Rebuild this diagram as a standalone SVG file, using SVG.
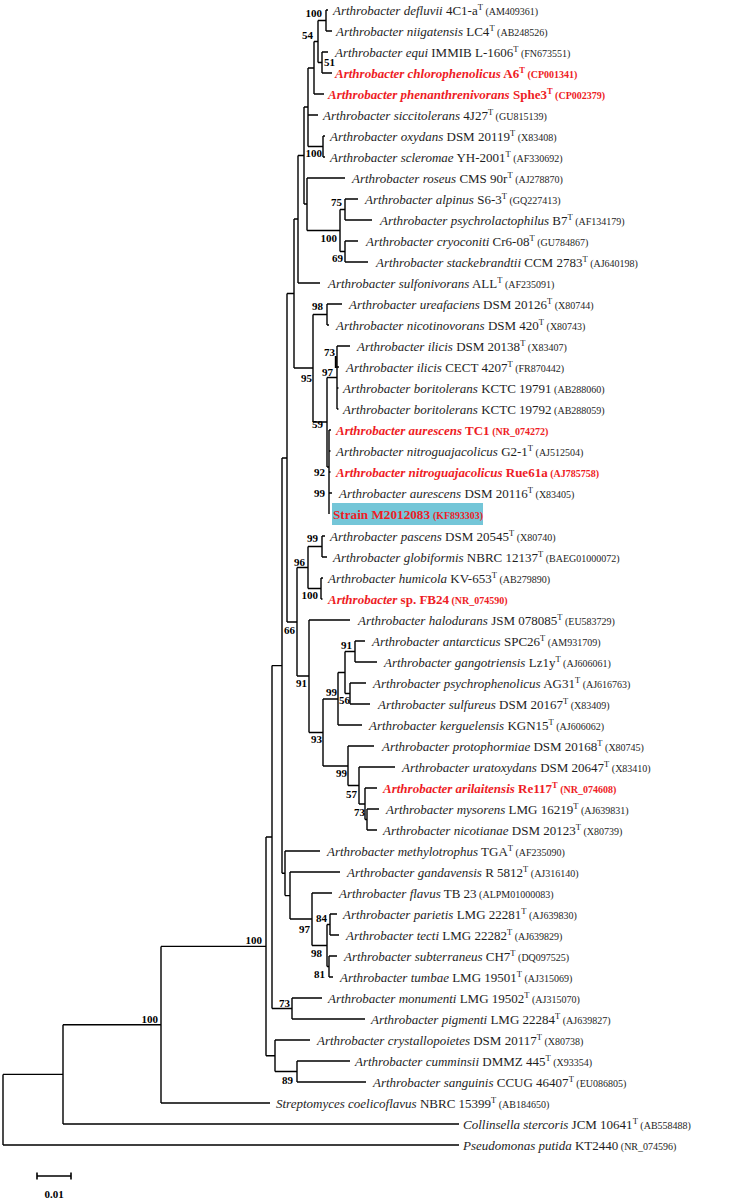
<svg xmlns="http://www.w3.org/2000/svg" width="743" height="1201" viewBox="0 0 743 1201">
<style>
text{font-family:"Liberation Serif","Times New Roman",serif;font-size:13px;fill:#1e1e1e}
.i{font-style:italic}
.sup{font-size:8.5px}
.acc{font-size:10px}
.red{fill:#ee1c25;font-weight:bold}
.bs{font-size:11px;font-weight:bold;fill:#000}
.e{text-anchor:end}
#connectors path{fill:none;stroke:#000;stroke-width:1.4}
</style>
<rect width="743" height="1201" fill="#fff"/>
<g id="connectors">
<path d="M326,10V31M322,52V73M318,20.5V62.5M314,41.5V94M308,68V146.5M323,136V157M345,199V220M345,241V262M340,209.5V251.5M307,178V230.5M304,107V204M298,155.5V283M294,219V368M327,304V325M337,346V409M327,377.5V467M329,430V514M313,314.5V422M287,293.5V622M322,536V557M321,578V599M308,546.5V588.5M355,641V662M350,683V704M345,651.5V693.5M338,672.5V725M367,809V830M365,788V819.5M359,767V804M348,746V785.5M323,699V766M309,620V732.5M297,567.5V676M330,914V935M329,956V977M327,924.5V966.5M312,893V945.5M290,872V919M285,851V895.6M282,458V873.3M292,998V1019M272,665.6V1008.5M297,1061V1082M275,1040V1071.5M266,837V1055.8M161,946.4V1103M63,1024.7V1124M3,1074.4V1145"/>
<path d="M318,20.5H326M318,62.5H322M314,41.5H318M308,68H314M308,146.5H323M340,209.5H345M340,251.5H345M307,230.5H340M304,107H308M304,204H307M298,155.5H304M294,219H298M313,314.5H327M327,377.5H337M327,467H329M313,422H327M294,368H313M287,293.5H294M308,546.5H322M308,588.5H321M297,567.5H308M345,651.5H355M345,693.5H350M338,672.5H345M323,699H338M365,819.5H367M359,804H365M348,785.5H359M323,766H348M309,732.5H323M297,676H309M287,622H297M282,458H287M327,924.5H330M327,966.5H329M312,945.5H327M290,919H312M285,895.6H290M282,873.3H285M272,665.6H282M272,1008.5H292M266,837H272M275,1071.5H297M266,1055.8H275M161,946.4H266M63,1024.7H161M3,1074.4H63"/>
<path d="M326,10H328M326,31H332M322,52H328M322,73H332M314,94H324M308,115H318M323,136H325M323,157H325M307,178H345M345,199H358M345,220H372M345,241H358M345,262H368M298,283H320M327,304H342M327,325H329M337,346H350M337,367H339M337,388H338.5M337,409H338.5M329,430H331M329,451H330.5M329,472H330.5M329,493H332M322,536H325M322,557H327M321,578H323M321,599H322.5M309,620H350M355,641H365M355,662H377M350,683H366M350,704H370M338,725H362M348,746H374M359,767H395M365,788H377M367,809H379M367,830H377M285,851H320M290,872H340M312,893H332M330,914H337M330,935H339M329,956H337M329,977H333M292,998H322M292,1019H365M275,1040H310M297,1061H350M297,1082H366M161,1103H270M63,1124H459M3,1145H459"/>
<path d="M335.8,356V368" style="stroke-width:2"/>
</g>
<g id="bootstrap">
<text class="bs e" x="322" y="17">100</text>
<text class="bs e" x="313" y="39">54</text>
<text class="bs" x="324" y="66">51</text>
<text class="bs e" x="322" y="157">100</text>
<text class="bs e" x="342" y="206">75</text>
<text class="bs e" x="337" y="242">100</text>
<text class="bs e" x="343" y="262">69</text>
<text class="bs e" x="323" y="310">98</text>
<text class="bs e" x="335" y="356">73</text>
<text class="bs e" x="333" y="376">97</text>
<text class="bs e" x="312" y="382">95</text>
<text class="bs e" x="323" y="428">59</text>
<text class="bs e" x="325" y="476">92</text>
<text class="bs e" x="325" y="497">99</text>
<text class="bs e" x="318" y="542">99</text>
<text class="bs e" x="305" y="566">96</text>
<text class="bs e" x="318" y="599">100</text>
<text class="bs e" x="295" y="634">66</text>
<text class="bs e" x="352" y="649">91</text>
<text class="bs e" x="307" y="687">91</text>
<text class="bs e" x="337" y="696">99</text>
<text class="bs e" x="350" y="704">56</text>
<text class="bs e" x="322" y="743">93</text>
<text class="bs e" x="347" y="777">99</text>
<text class="bs e" x="357" y="798">57</text>
<text class="bs e" x="365" y="816">73</text>
<text class="bs e" x="262" y="944">100</text>
<text class="bs e" x="310" y="933">97</text>
<text class="bs e" x="327" y="922">84</text>
<text class="bs e" x="322" y="957">98</text>
<text class="bs e" x="325" y="978">81</text>
<text class="bs e" x="290" y="1007">73</text>
<text class="bs e" x="293" y="1084">89</text>
<text class="bs e" x="158" y="1023">100</text>
</g>
<g id="t-defluvii"><text x="333" y="14.5"><tspan class="i">Arthrobacter defluvii</tspan> 4C1-a<tspan class="sup" dy="-5">T</tspan><tspan class="acc" dy="5"> (AM409361)</tspan></text></g>
<g id="t-niigatensis"><text x="336" y="35.5"><tspan class="i">Arthrobacter niigatensis</tspan> LC4<tspan class="sup" dy="-5">T</tspan><tspan class="acc" dy="5"> (AB248526)</tspan></text></g>
<g id="t-equi"><text x="335" y="56.5"><tspan class="i">Arthrobacter equi</tspan> IMMIB L-1606<tspan class="sup" dy="-5">T</tspan><tspan class="acc" dy="5"> (FN673551)</tspan></text></g>
<g id="t-chlorophenolicus"><text class="red" x="335" y="77.5"><tspan class="i">Arthrobacter chlorophenolicus</tspan> A6<tspan class="sup" dy="-5">T</tspan><tspan class="acc" dy="5"> (CP001341)</tspan></text></g>
<g id="t-phenanthrenivorans"><text class="red" x="328" y="98.5"><tspan class="i">Arthrobacter phenanthrenivorans</tspan> Sphe3<tspan class="sup" dy="-5">T</tspan><tspan class="acc" dy="5"> (CP002379)</tspan></text></g>
<g id="t-siccitolerans"><text x="323" y="119.5"><tspan class="i">Arthrobacter siccitolerans</tspan> 4J27<tspan class="sup" dy="-5">T</tspan><tspan class="acc" dy="5"> (GU815139)</tspan></text></g>
<g id="t-oxydans"><text x="330" y="140.5"><tspan class="i">Arthrobacter oxydans</tspan> DSM 20119<tspan class="sup" dy="-5">T</tspan><tspan class="acc" dy="5"> (X83408)</tspan></text></g>
<g id="t-scleromae"><text x="330" y="161.5"><tspan class="i">Arthrobacter scleromae</tspan> YH-2001<tspan class="sup" dy="-5">T</tspan><tspan class="acc" dy="5"> (AF330692)</tspan></text></g>
<g id="t-roseus"><text x="352" y="182.5"><tspan class="i">Arthrobacter roseus</tspan> CMS 90r<tspan class="sup" dy="-5">T</tspan><tspan class="acc" dy="5"> (AJ278870)</tspan></text></g>
<g id="t-alpinus"><text x="365" y="203.5"><tspan class="i">Arthrobacter alpinus</tspan> S6-3<tspan class="sup" dy="-5">T</tspan><tspan class="acc" dy="5"> (GQ227413)</tspan></text></g>
<g id="t-psychrolactophilus"><text x="380" y="224.5"><tspan class="i">Arthrobacter psychrolactophilus</tspan> B7<tspan class="sup" dy="-5">T</tspan><tspan class="acc" dy="5"> (AF134179)</tspan></text></g>
<g id="t-cryoconiti"><text x="366" y="245.5"><tspan class="i">Arthrobacter cryoconiti</tspan> Cr6-08<tspan class="sup" dy="-5">T</tspan><tspan class="acc" dy="5"> (GU784867)</tspan></text></g>
<g id="t-stackebrandtii"><text x="376" y="266.5"><tspan class="i">Arthrobacter stackebrandtii</tspan> CCM 2783<tspan class="sup" dy="-5">T</tspan><tspan class="acc" dy="5"> (AJ640198)</tspan></text></g>
<g id="t-sulfonivorans"><text x="328" y="287.5"><tspan class="i">Arthrobacter sulfonivorans</tspan> ALL<tspan class="sup" dy="-5">T</tspan><tspan class="acc" dy="5"> (AF235091)</tspan></text></g>
<g id="t-ureafaciens"><text x="349" y="308.5"><tspan class="i">Arthrobacter ureafaciens</tspan> DSM 20126<tspan class="sup" dy="-5">T</tspan><tspan class="acc" dy="5"> (X80744)</tspan></text></g>
<g id="t-nicotinovorans"><text x="336" y="329.5"><tspan class="i">Arthrobacter nicotinovorans</tspan> DSM 420<tspan class="sup" dy="-5">T</tspan><tspan class="acc" dy="5"> (X80743)</tspan></text></g>
<g id="t-ilicis-dsm"><text x="357" y="350.5"><tspan class="i">Arthrobacter ilicis</tspan> DSM 20138<tspan class="sup" dy="-5">T</tspan><tspan class="acc" dy="5"> (X83407)</tspan></text></g>
<g id="t-ilicis-cect"><text x="346" y="371.5"><tspan class="i">Arthrobacter ilicis</tspan> CECT 4207<tspan class="sup" dy="-5">T</tspan><tspan class="acc" dy="5"> (FR870442)</tspan></text></g>
<g id="t-boritolerans-1"><text x="343" y="392.5"><tspan class="i">Arthrobacter boritolerans</tspan> KCTC 19791<tspan class="acc"> (AB288060)</tspan></text></g>
<g id="t-boritolerans-2"><text x="343" y="413.5"><tspan class="i">Arthrobacter boritolerans</tspan> KCTC 19792<tspan class="acc"> (AB288059)</tspan></text></g>
<g id="t-aurescens-tc1"><text class="red" x="336" y="434.5"><tspan class="i">Arthrobacter aurescens</tspan> TC1<tspan class="acc"> (NR_074272)</tspan></text></g>
<g id="t-nitroguajacolicus-g21"><text x="336" y="455.5"><tspan class="i">Arthrobacter nitroguajacolicus</tspan> G2-1<tspan class="sup" dy="-5">T</tspan><tspan class="acc" dy="5"> (AJ512504)</tspan></text></g>
<g id="t-nitroguajacolicus-rue61a"><text class="red" x="336" y="476.5"><tspan class="i">Arthrobacter nitroguajacolicus</tspan> Rue61a<tspan class="acc"> (AJ785758)</tspan></text></g>
<g id="t-aurescens-dsm"><text x="339" y="497.5"><tspan class="i">Arthrobacter aurescens</tspan> DSM 20116<tspan class="sup" dy="-5">T</tspan><tspan class="acc" dy="5"> (X83405)</tspan></text></g>
<g id="t-strain"><rect x="332" y="503" width="151" height="22" fill="#74c6d8"/><text class="red" x="333" y="518.5" textLength="97" lengthAdjust="spacingAndGlyphs">Strain M2012083</text><text class="red acc" x="433" y="518.5" textLength="50" lengthAdjust="spacingAndGlyphs">(KF893303)</text></g>
<g id="t-pascens"><text x="330" y="540.5"><tspan class="i">Arthrobacter pascens</tspan> DSM 20545<tspan class="sup" dy="-5">T</tspan><tspan class="acc" dy="5"> (X80740)</tspan></text></g>
<g id="t-globiformis"><text x="333" y="561.5"><tspan class="i">Arthrobacter globiformis</tspan> NBRC 12137<tspan class="sup" dy="-5">T</tspan><tspan class="acc" dy="5"> (BAEG01000072)</tspan></text></g>
<g id="t-humicola"><text x="328" y="582.5"><tspan class="i">Arthrobacter humicola</tspan> KV-653<tspan class="sup" dy="-5">T</tspan><tspan class="acc" dy="5"> (AB279890)</tspan></text></g>
<g id="t-fb24"><text class="red" x="328" y="603.5"><tspan class="i">Arthrobacter</tspan> sp. FB24<tspan class="acc"> (NR_074590)</tspan></text></g>
<g id="t-halodurans"><text x="358" y="624.5"><tspan class="i">Arthrobacter halodurans</tspan> JSM 078085<tspan class="sup" dy="-5">T</tspan><tspan class="acc" dy="5"> (EU583729)</tspan></text></g>
<g id="t-antarcticus"><text x="372" y="645.5"><tspan class="i">Arthrobacter antarcticus</tspan> SPC26<tspan class="sup" dy="-5">T</tspan><tspan class="acc" dy="5"> (AM931709)</tspan></text></g>
<g id="t-gangotriensis"><text x="384" y="666.5"><tspan class="i">Arthrobacter gangotriensis</tspan> Lz1y<tspan class="sup" dy="-5">T</tspan><tspan class="acc" dy="5"> (AJ606061)</tspan></text></g>
<g id="t-psychrophenolicus"><text x="373" y="687.5"><tspan class="i">Arthrobacter psychrophenolicus</tspan> AG31<tspan class="sup" dy="-5">T</tspan><tspan class="acc" dy="5"> (AJ616763)</tspan></text></g>
<g id="t-sulfureus"><text x="378" y="708.5"><tspan class="i">Arthrobacter sulfureus</tspan> DSM 20167<tspan class="sup" dy="-5">T</tspan><tspan class="acc" dy="5"> (X83409)</tspan></text></g>
<g id="t-kerguelensis"><text x="369" y="729.5"><tspan class="i">Arthrobacter kerguelensis</tspan> KGN15<tspan class="sup" dy="-5">T</tspan><tspan class="acc" dy="5"> (AJ606062)</tspan></text></g>
<g id="t-protophormiae"><text x="382" y="750.5"><tspan class="i">Arthrobacter protophormiae</tspan> DSM 20168<tspan class="sup" dy="-5">T</tspan><tspan class="acc" dy="5"> (X80745)</tspan></text></g>
<g id="t-uratoxydans"><text x="402" y="771.5"><tspan class="i">Arthrobacter uratoxydans</tspan> DSM 20647<tspan class="sup" dy="-5">T</tspan><tspan class="acc" dy="5"> (X83410)</tspan></text></g>
<g id="t-arilaitensis"><text class="red" x="383" y="792.5"><tspan class="i">Arthrobacter arilaitensis</tspan> Re117<tspan class="sup" dy="-5">T</tspan><tspan class="acc" dy="5"> (NR_074608)</tspan></text></g>
<g id="t-mysorens"><text x="386" y="813.5"><tspan class="i">Arthrobacter mysorens</tspan> LMG 16219<tspan class="sup" dy="-5">T</tspan><tspan class="acc" dy="5"> (AJ639831)</tspan></text></g>
<g id="t-nicotianae"><text x="383" y="834.5"><tspan class="i">Arthrobacter nicotianae</tspan> DSM 20123<tspan class="sup" dy="-5">T</tspan><tspan class="acc" dy="5"> (X80739)</tspan></text></g>
<g id="t-methylotrophus"><text x="327" y="855.5"><tspan class="i">Arthrobacter methylotrophus</tspan> TGA<tspan class="sup" dy="-5">T</tspan><tspan class="acc" dy="5"> (AF235090)</tspan></text></g>
<g id="t-gandavensis"><text x="347" y="876.5"><tspan class="i">Arthrobacter gandavensis</tspan> R 5812<tspan class="sup" dy="-5">T</tspan><tspan class="acc" dy="5"> (AJ316140)</tspan></text></g>
<g id="t-flavus"><text x="339" y="897.5"><tspan class="i">Arthrobacter flavus</tspan> TB 23<tspan class="acc"> (ALPM01000083)</tspan></text></g>
<g id="t-parietis"><text x="343" y="918.5"><tspan class="i">Arthrobacter parietis</tspan> LMG 22281<tspan class="sup" dy="-5">T</tspan><tspan class="acc" dy="5"> (AJ639830)</tspan></text></g>
<g id="t-tecti"><text x="346" y="939.5"><tspan class="i">Arthrobacter tecti</tspan> LMG 22282<tspan class="sup" dy="-5">T</tspan><tspan class="acc" dy="5"> (AJ639829)</tspan></text></g>
<g id="t-subterraneus"><text x="344" y="960.5"><tspan class="i">Arthrobacter subterraneus</tspan> CH7<tspan class="sup" dy="-5">T</tspan><tspan class="acc" dy="5"> (DQ097525)</tspan></text></g>
<g id="t-tumbae"><text x="340" y="981.5"><tspan class="i">Arthrobacter tumbae</tspan> LMG 19501<tspan class="sup" dy="-5">T</tspan><tspan class="acc" dy="5"> (AJ315069)</tspan></text></g>
<g id="t-monumenti"><text x="328" y="1002.5"><tspan class="i">Arthrobacter monumenti</tspan> LMG 19502<tspan class="sup" dy="-5">T</tspan><tspan class="acc" dy="5"> (AJ315070)</tspan></text></g>
<g id="t-pigmenti"><text x="371" y="1023.5"><tspan class="i">Arthrobacter pigmenti</tspan> LMG 22284<tspan class="sup" dy="-5">T</tspan><tspan class="acc" dy="5"> (AJ639827)</tspan></text></g>
<g id="t-crystallopoietes"><text x="317" y="1044.5"><tspan class="i">Arthrobacter crystallopoietes</tspan> DSM 20117<tspan class="sup" dy="-5">T</tspan><tspan class="acc" dy="5"> (X80738)</tspan></text></g>
<g id="t-cumminsii"><text x="355" y="1065.5"><tspan class="i">Arthrobacter cumminsii</tspan> DMMZ 445<tspan class="sup" dy="-5">T</tspan><tspan class="acc" dy="5"> (X93354)</tspan></text></g>
<g id="t-sanguinis"><text x="373" y="1086.5"><tspan class="i">Arthrobacter sanguinis</tspan> CCUG 46407<tspan class="sup" dy="-5">T</tspan><tspan class="acc" dy="5"> (EU086805)</tspan></text></g>
<g id="t-streptomyces"><text x="276" y="1107.5"><tspan class="i">Streptomyces coelicoflavus</tspan> NBRC 15399<tspan class="sup" dy="-5">T</tspan><tspan class="acc" dy="5"> (AB184650)</tspan></text></g>
<g id="t-collinsella"><text x="463" y="1128.5"><tspan class="i">Collinsella stercoris</tspan> JCM 10641<tspan class="sup" dy="-5">T</tspan><tspan class="acc" dy="5"> (AB558488)</tspan></text></g>
<g id="t-pseudomonas"><text x="463" y="1149.5"><tspan class="i">Pseudomonas putida</tspan> KT2440<tspan class="acc"> (NR_074596)</tspan></text></g>
<g id="scale-bar">
<path d="M37,1176H71M37,1172.5V1179.5M71,1172.5V1179.5" fill="none" stroke="#000" stroke-width="1.6"/>
<text class="bs" x="54" y="1198" text-anchor="middle">0.01</text>
</g>
</svg>
